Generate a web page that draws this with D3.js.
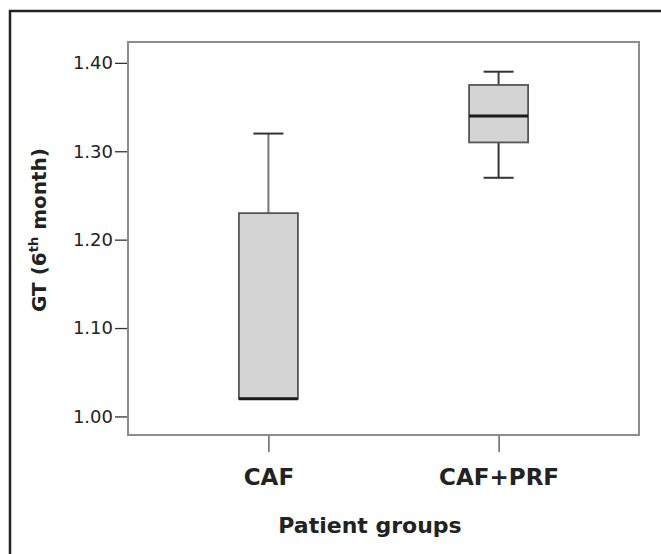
<!DOCTYPE html>
<html>
<head>
<meta charset="utf-8">
<script src="https://cdn.jsdelivr.net/npm/d3@7"></script>
<style>
  body { margin: 0; background: #fff; }
  svg { display: block; }
</style>
</head>
<body>
<div id="chart"></div>
<script>
// box summaries
const groups = ["CAF", "CAF+PRF"]
const minVals = [1.02, 1.27]
const q1Vals = [1.02, 1.31]
const medianVals = [1.02, 1.34]
const q3Vals = [1.23, 1.375]
const maxVals = [1.32, 1.39]
const yTicks = [1.00, 1.10, 1.20, 1.30, 1.40]

const width = 661
const height = 554
const margin = { top: 42, right: 22, bottom: 119, left: 128 }

const svg = d3.select("#chart")
    .append("svg")
    .attr("width", width)
    .attr("height", height)

// outer frame (only top and left edges show in the crop)
svg.append("path")
    .attr("d", "M10,554 L10,11 L661,11")
    .attr("fill", "none")
    .attr("stroke", "#222")
    .attr("stroke-width", 2.5)

const x = d3.scalePoint()
    .domain(groups)
    .range([margin.left, width - margin.right])
    .padding(0.61)

const y = d3.scaleLinear()
    .domain([0.979, 1.4236])
    .range([height - margin.bottom, margin.top])

// y axis
const yAxis = svg.append("g")
    .attr("transform", `translate(${margin.left},0)`)
    .call(d3.axisLeft(y).tickValues(yTicks).tickFormat(d3.format(".2f")).tickSize(13).tickPadding(2))
yAxis.select(".domain").remove()
yAxis.selectAll("line").attr("stroke", "#333").attr("stroke-width", 1.3)
yAxis.selectAll("text")
    .attr("fill", "#222")
    .style("font-family", "DejaVu Sans, sans-serif")
    .style("font-size", "18px")

// x axis
const xAxis = svg.append("g")
    .attr("transform", `translate(0,${height - margin.bottom})`)
    .call(d3.axisBottom(x).tickSize(17).tickPadding(17))
xAxis.select(".domain").remove()
xAxis.selectAll("line").attr("stroke", "#666").attr("stroke-width", 1.5)
xAxis.selectAll("text")
    .attr("fill", "#222")
    .style("font-family", "DejaVu Sans, sans-serif")
    .style("font-weight", "bold")
    .style("font-size", "23px")

// plot frame
svg.append("rect")
    .attr("x", margin.left)
    .attr("y", margin.top)
    .attr("width", width - margin.right - margin.left)
    .attr("height", height - margin.bottom - margin.top)
    .attr("fill", "none")
    .attr("stroke", "#8c8c8c")
    .attr("stroke-width", 2)

const boxW = 59
const capW = 30
const data = groups.map((g, i) => ({
    g, min: minVals[i], q1: q1Vals[i], med: medianVals[i], q3: q3Vals[i], max: maxVals[i]
}))

const box = svg.selectAll(".box")
    .data(data)
    .join("g")
    .attr("class", "box")

// whiskers
box.append("line")
    .attr("x1", d => x(d.g)).attr("x2", d => x(d.g))
    .attr("y1", d => y(d.q3)).attr("y2", d => y(d.max))
    .attr("stroke", (d, i) => i === 0 ? "#777" : "#444").attr("stroke-width", 2)
box.filter(d => d.min < d.q1).append("line")
    .attr("x1", d => x(d.g)).attr("x2", d => x(d.g))
    .attr("y1", d => y(d.q1)).attr("y2", d => y(d.min))
    .attr("stroke", "#333").attr("stroke-width", 2)

// caps
box.append("line")
    .attr("x1", d => x(d.g) - capW / 2).attr("x2", d => x(d.g) + capW / 2)
    .attr("y1", d => y(d.max)).attr("y2", d => y(d.max))
    .attr("stroke", "#333").attr("stroke-width", 2)
box.filter(d => d.min < d.q1).append("line")
    .attr("x1", d => x(d.g) - capW / 2).attr("x2", d => x(d.g) + capW / 2)
    .attr("y1", d => y(d.min)).attr("y2", d => y(d.min))
    .attr("stroke", "#333").attr("stroke-width", 2)

box.append("rect")
    .attr("x", d => x(d.g) - boxW / 2)
    .attr("width", boxW)
    .attr("y", d => y(d.q3))
    .attr("height", d => y(d.q1) - y(d.q3))
    .attr("fill", "#d4d4d4")
    .attr("stroke", "#555")
    .attr("stroke-width", 1.8)

// median
box.append("line")
    .attr("x1", d => x(d.g) - boxW / 2).attr("x2", d => x(d.g) + boxW / 2)
    .attr("y1", d => y(d.med)).attr("y2", d => y(d.med))
    .attr("stroke", "#1a1a1a").attr("stroke-width", 3)

// axis titles
svg.append("text")
    .attr("x", 370)
    .attr("y", 533)
    .attr("text-anchor", "middle")
    .attr("fill", "#222")
    .style("font-family", "DejaVu Sans, sans-serif")
    .style("font-weight", "bold")
    .style("font-size", "22px")
    .text("Patient groups")

const yt = svg.append("text")
    .attr("transform", "translate(46,230) rotate(-90)")
    .attr("text-anchor", "middle")
    .attr("fill", "#222")
    .style("font-family", "DejaVu Sans, sans-serif")
    .style("font-weight", "bold")
    .style("font-size", "20px")
yt.append("tspan").text("GT (6")
yt.append("tspan").attr("dy", -8).style("font-size", "13px").text("th")
yt.append("tspan").attr("dy", 8).text(" month)")
</script>
</body>
</html>
